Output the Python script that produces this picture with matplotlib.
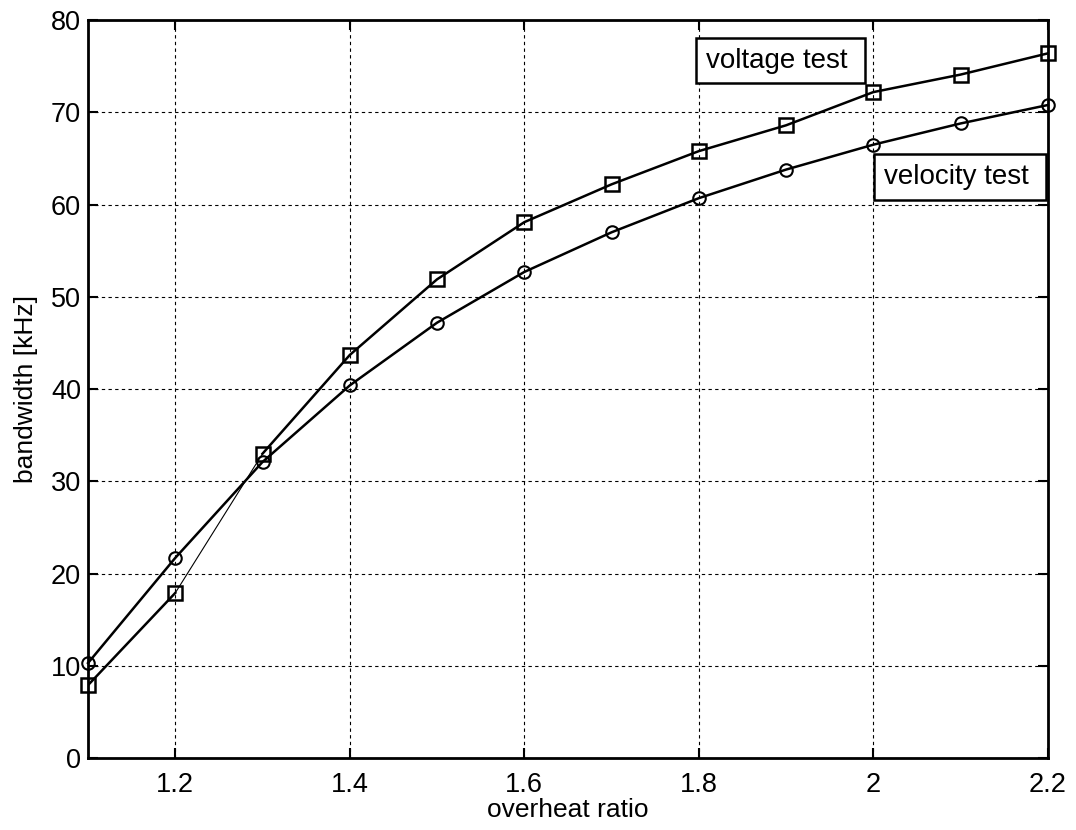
import numpy as np
import matplotlib.pyplot as plt

plt.rcParams['font.family'] = ['Liberation Sans', 'DejaVu Sans']

# datos
ratio = [1.1, 1.2, 1.3, 1.4, 1.5, 1.6, 1.7, 1.8, 1.9, 2.0, 2.1, 2.2]
voltage = [7.9, 17.9, 33.0, 43.7, 51.9, 58.1, 62.2, 65.8, 68.6, 72.2, 74.1, 76.4]
velocity = [10.3, 21.7, 32.1, 40.4, 47.2, 52.7, 57.0, 60.7, 63.8, 66.5, 68.8, 70.8]

x = np.array(ratio)
v1 = np.array(voltage)
v2 = np.array(velocity)

fig = plt.figure(figsize=(10.76, 8.3), dpi=100)
ax = fig.add_axes([0.0818, 0.0867, 0.892, 0.889])

# curva de velocidad
ax.plot(x, v2, '-', color='k', lw=1.8, marker='o', ms=9, mfc='none', mew=1.5, zorder=3, clip_on=False)

# curva de tension (tramo 1.2-1.3 mas fino)
ax.plot(x[:2], v1[:2], '-', color='k', lw=1.8, zorder=3)
ax.plot(x[1:3], v1[1:3], '-', color='k', lw=0.8, zorder=3)
ax.plot(x[2:], v1[2:], '-', color='k', lw=1.8, zorder=3)
ax.plot(x, v1, 'none', marker='s', ms=10.5, mfc='none', mec='k', mew=1.8, zorder=4, clip_on=False)

ax.set_xlim(1.1, 2.2)
ax.set_ylim(0, 80)
ax.set_xticks([1.2, 1.4, 1.6, 1.8, 2.0, 2.2])
ax.set_xticklabels(['1.2', '1.4', '1.6', '1.8', '2', '2.2'])
ax.set_yticks(np.arange(0, 81, 10))

ax.grid(True, color='k', linestyle=(0, (3, 3)), linewidth=0.8)
ax.tick_params(direction='in', length=7, width=1.5, top=True, right=True,
               labelsize=19.5)
ax.tick_params(axis='x', pad=10)
ax.tick_params(axis='y', pad=5)
for s in ax.spines.values():
    s.set_linewidth(2)

ax.set_xlabel('overheat ratio', fontsize=19, labelpad=0)
ax.set_ylabel('bandwidth [kHz]', fontsize=19, labelpad=9)

box = dict(boxstyle='square,pad=0.35', fc='white', ec='k', lw=1.8)
ax.text(1.808, 75.6, 'voltage test ', fontsize=20, ha='left', va='center', bbox=box, zorder=5)
ax.text(2.012, 63.0, 'velocity test ', fontsize=20, ha='left', va='center', bbox=box, zorder=5)

plt.savefig('out.png', dpi=100)
